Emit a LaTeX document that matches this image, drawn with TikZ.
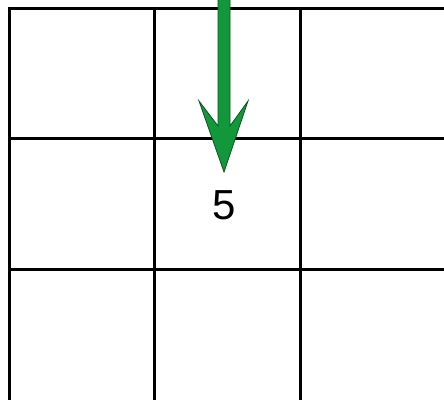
\documentclass[tikz,border=0pt]{standalone}
\usepackage{fontspec}
\setmainfont{Liberation Sans}
\definecolor{arrowgreen}{RGB}{18,152,58}
\definecolor{arrowedge}{RGB}{10,85,32}
\begin{document}
\begin{tikzpicture}[x=1pt,y=-1pt,
  gridline/.style={line width=3pt,black,line cap=rect},
  bigarrow/.style={fill=arrowgreen,draw=arrowedge,line width=0.8pt,line join=miter},
  numlabel/.style={inner sep=0pt,font=\fontsize{42}{42}\selectfont}]
\useasboundingbox (0,0) rectangle (444,399);
\fill[white] (0,0) rectangle (444,399);
\foreach \y in {8,138,269} \draw[gridline] (9,\y) -- (447,\y);
\foreach \x in {9,154,300} \draw[gridline] (\x,8) -- (\x,402);
\coordinate (start) at (224,-3);
\coordinate (tip) at (224,172);
\draw[bigarrow] ([xshift=-6pt]start) -- (218,126) -- (199,101) -- (tip) -- (248,101) -- (230,126) -- ([xshift=6pt]start) -- cycle;
\node[numlabel] (five) at (224,205) {5};
\end{tikzpicture}
\end{document}
